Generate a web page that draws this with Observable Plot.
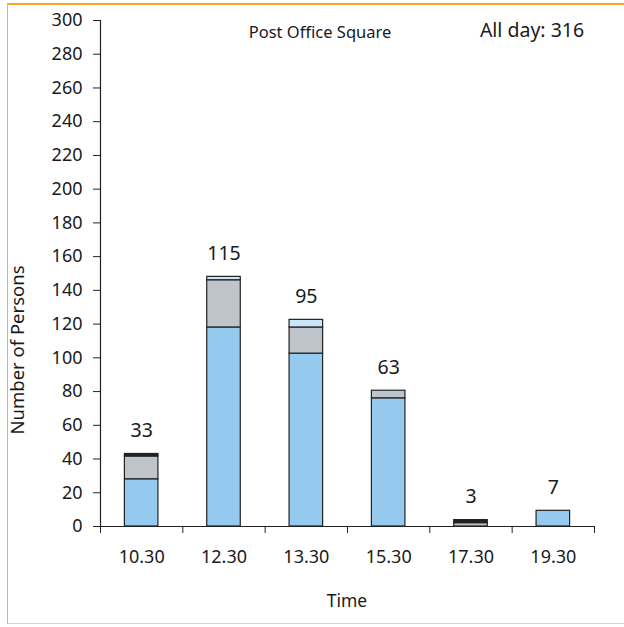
<!DOCTYPE html>
<html>
<head>
<meta charset="utf-8">
<script src="https://cdn.jsdelivr.net/npm/d3@7"></script>
<script src="https://cdn.jsdelivr.net/npm/@observablehq/plot@0.6"></script>
<style>
  body { margin: 0; background: #fff; }
  #wrap { position: relative; width: 624px; height: 627px; overflow: hidden; font-family: "Noto Sans", sans-serif; }
  #frame { position: absolute; left: 7px; top: 3px; width: 640px; height: 621px; box-sizing: border-box;
           border-top: 2px solid #f6a623; border-left: 1.5px solid #f6b040; border-bottom: 1.5px solid #fbcf8a; }
  #chart { position: absolute; left: 0; top: 0; }
  #notes { position: absolute; left: 0; top: 0; pointer-events: none; }
  #notes text { font-family: "Noto Sans", sans-serif; fill: #1a1a1a; }
</style>
</head>
<body>
<div id="wrap">
  <div id="frame"></div>
  <div id="chart"></div>
  <svg id="notes" width="624" height="627">
    <text x="320" y="38" text-anchor="middle" font-size="16.5">Post Office Square</text>
    <text x="532" y="37" text-anchor="middle" font-size="19.5">All day: 316</text>
    <text transform="translate(24,350) rotate(-90)" text-anchor="middle" font-size="18.5">Number of Persons</text>
    <text x="347" y="607" text-anchor="middle" font-size="17.5">Time</text>
  </svg>
</div>
<script>
// ---- data ----
const times = ["10.30", "12.30", "13.30", "15.30", "17.30", "19.30"];
const blueVals  = [28, 118, 102.5, 76, 0, 9.3];
const grayVals  = [13.5, 28, 15.5, 4.5, 2, 0];
const lightVals = [0, 2, 4.5, 0, 0, 0];
const darkVals  = [1.5, 0, 0, 0, 1.8, 0];
const totals    = [33, 115, 95, 63, 3, 7];
const yTicks    = [0, 20, 40, 60, 80, 100, 120, 140, 160, 180, 200, 220, 240, 260, 280, 300];

const seriesNames = ["blue", "gray", "light", "dark"];
const seriesVals = [blueVals, grayVals, lightVals, darkVals];
const seriesColors = ["#95c9ee", "#bfc3ca", "#c9e7f6", "#222222"];

const rows = seriesNames.flatMap((s, k) =>
  times.map((t, i) => ({i, x1: i, x2: i + 1, series: s, value: seriesVals[k][i]}))
).filter(d => d.value > 0);

const labelRows = times.map((t, i) => ({
  i, total: totals[i],
  top: seriesVals.reduce((acc, arr) => acc + arr[i], 0)
}));

const boundaries = times.map((t, i) => i).concat([times.length]);
const centers = times.map((t, i) => i + 0.5);

const chart = Plot.plot({
  width: 624,
  height: 627,
  marginLeft: 100,
  marginRight: 30,
  marginTop: 20,
  marginBottom: 101,
  style: {fontFamily: "Noto Sans, sans-serif", fontSize: "17px", color: "#1a1a1a", background: "transparent"},
  x: {domain: [0, times.length], label: null},
  y: {domain: [0, 300], label: null},
  color: {domain: seriesNames, range: seriesColors},
  marks: [
    Plot.rectY(rows, {x1: "x1", x2: "x2", y: "value", fill: "series", stroke: "#222", strokeWidth: 1.2,
      insetLeft: 24.4, insetRight: 24.4}),
    Plot.ruleX([0], {stroke: "#222", strokeWidth: 1.2}),
    Plot.ruleY([0], {stroke: "#222", strokeWidth: 1.2}),
    Plot.axisY({ticks: yTicks, tickSize: 7, tickPadding: 11, tickFormat: d => String(d), label: null, stroke: "#222", fontSize: 18}),
    Plot.axisX({ticks: boundaries, tickSize: 7, tickFormat: () => "", label: null, stroke: "#222"}),
    Plot.axisX({ticks: centers, tickSize: 0, tickPadding: 24, tickFormat: v => times[Math.floor(v)], label: null, fontSize: 18}),
    Plot.text(labelRows, {x: d => d.i + 0.5, y: "top", text: d => String(d.total), dy: -23, fontSize: 19.5, fill: "#1a1a1a"})
  ]
});
document.getElementById("chart").appendChild(chart);
</script>
</body>
</html>
